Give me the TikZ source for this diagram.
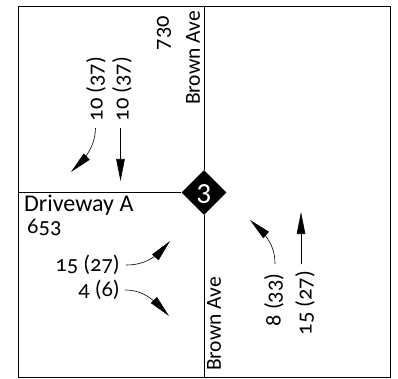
\documentclass[tikz,border=0pt]{standalone}
\usepackage{fontspec}
\setmainfont[Numbers=OldStyle]{Carlito}
\usetikzlibrary{arrows.meta,bending,shapes.geometric}
\begin{document}
\begin{tikzpicture}
	[x=1pt, y=-1pt, inner sep=0pt, font=\fontsize{22.5}{24}\selectfont,
	road/.style ={line width=1pt},
	flow/.style ={line width=0.6pt, -{Triangle[length=22pt,width=8.5pt,flex=0.6]}},
	street/.style ={rotate=90, font=\fontsize{21.5}{24}\selectfont},
	count/.style ={rotate=90}];
	\useasboundingbox (0,0) rectangle (398,379);
	\node [draw, line width=1pt, minimum width=371.5pt, minimum height=371pt] (frame) at (204.25,192.25) {};
	\node [diamond, fill=black, minimum width=45pt, minimum height=45pt] (signal) at (204,192.5) {};
	\node [text=white, font=\fontsize{30}{30}\selectfont] (signalnum) at (204,194) {3};
	\draw [road] (signal) -- (signal |- frame.north);
	\draw [road] (signal) -- (signal |- frame.south);
	\draw [road] (signal) -- (signal -| frame.west);
	\node [anchor=west, font=\fontsize{24}{24}\selectfont] (driveway) at (24,205) {Driveway A};
	\node [anchor=west] (vol653) at (27,227) {653};
	\node [count] (vol730) at (164,33) {730};
	\node [street] (brownn) at (193,58) {Brown Ave};
	\node [street] (browns) at (214,324) {Brown Ave};
	\node [count] (sbleft) at (96,89) {10 (37)};
	\node [count] (sbthru) at (122,89) {10 (37)};
	\node [count] (nbleft) at (274,300) {8 (33)};
	\node [count] (nbthru) at (305,303) {15 (27)};
	\node [anchor=east] (ebleft) at (120,265) {15 (27)};
	\node [anchor=east] (ebright) at (120,290) {4 (6)};
	\coordinate (sbleftend) at (71,172);
	\coordinate (sbthruend) at (120.5,181);
	\coordinate (nbleftend) at (250,220);
	\coordinate (nbthruend) at (301,212);
	\coordinate (ebleftend) at (170,241);
	\coordinate (ebrightend) at (169,316);
	\draw [flow] (95.5,128) .. controls (95,143) and (90,155) .. (sbleftend);
	\draw [flow] (120.5,128) -- (sbthruend);
	\draw [flow] (275,264) .. controls (275,249) and (270,237) .. (nbleftend);
	\draw [flow] (301,264) -- (nbthruend);
	\draw [flow] (126,265) .. controls (142,265) and (155,260) .. (ebleftend);
	\draw [flow] (125,290) .. controls (142,290) and (153,298) .. (ebrightend);
\end{tikzpicture}
\end{document}
